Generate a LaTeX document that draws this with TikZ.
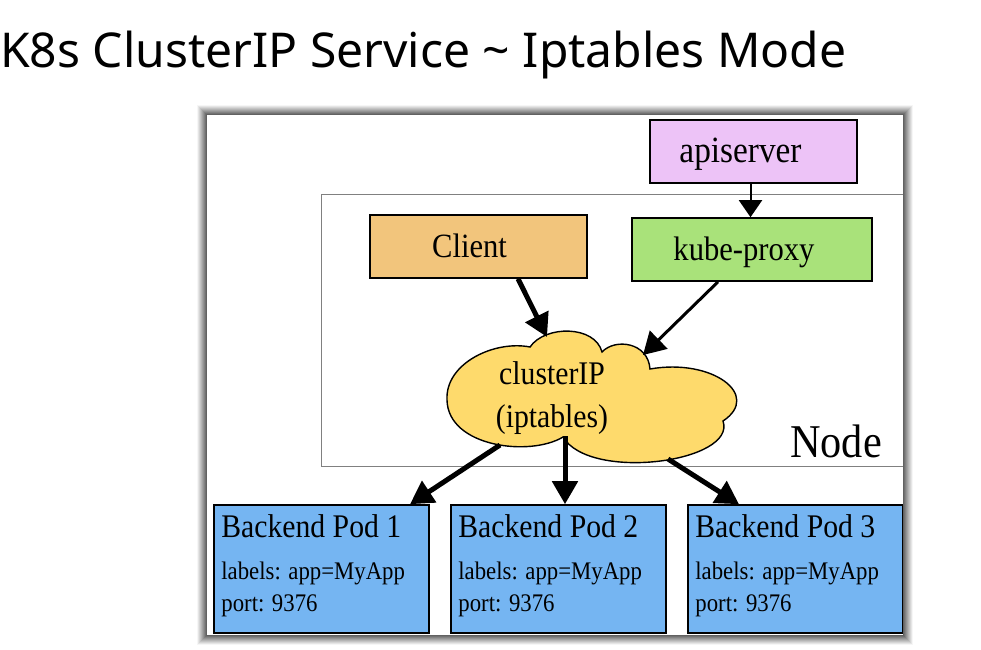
\documentclass[tikz,border=0pt]{standalone}
\usepackage{fontspec}
\setmainfont{Liberation Serif}[FakeStretch=0.9]
\newfontfamily\titlefont{Noto Sans}
\usetikzlibrary{arrows.meta,calc}
\definecolor{apicol}{RGB}{237,195,247}
\definecolor{clientcol}{RGB}{242,197,124}
\definecolor{kubecol}{RGB}{169,226,122}
\definecolor{cloudcol}{RGB}{254,218,108}
\definecolor{podcol}{RGB}{117,181,242}
\definecolor{noderect}{RGB}{128,128,128}
\tikzset{
  box/.style={draw=black, line width=1.6pt, rectangle, minimum height=63pt,
    inner sep=0pt, text height=22.5pt, text depth=0pt,
    font=\fontsize{34}{40}\selectfont},
  podbox/.style={draw=black, line width=1.6pt, rectangle, fill=podcol,
    minimum width=215pt, minimum height=128pt, inner sep=0pt},
  podtitle/.style={anchor=base west, inner sep=0pt, font=\fontsize{33}{38}\selectfont},
  podline/.style={anchor=base west, inner sep=0pt, font=\fontsize{25.3}{30}\selectfont},
  bigarrow/.style={line width=5pt, -{Triangle[length=23pt,width=25pt]}},
  midarrow/.style={line width=3pt, -{Triangle[length=22pt,width=25pt]}},
  thinarrow/.style={line width=2pt, -{Triangle[length=17pt,width=23pt]}},
}
\begin{document}
\begin{tikzpicture}[x=1pt,y=-1pt]
\useasboundingbox (0,0) rectangle (981,649);
\fill[white] (0,0) rectangle (981,649);

% title
\node[anchor=base west, inner sep=0pt, font=\titlefont\fontsize{48}{56}\selectfont] (title) at (0,67) {K8s ClusterIP Service \char`\~{} Iptables Mode};

% node rectangle
\draw[noderect, line width=1pt] (321,194) rectangle (908,466);
\node[anchor=base east, inner sep=0pt, font=\fontsize{47}{52}\selectfont] (nodelbl) at (882,457) {Node};

% boxes
\node[box, fill=apicol, minimum width=207pt, font=\fontsize{37}{42}\selectfont] (api) at (753.5,151.5) {\hspace*{-26pt}apiserver};
\node[box, fill=clientcol, minimum width=217pt] (client) at (478.5,246.5) {\hspace*{-18pt}Client};
\node[box, fill=kubecol, minimum width=240pt] (kube) at (752,249.5) {\hspace*{-16pt}kube-proxy};

% cloud
\filldraw[fill=cloudcol, draw=black, line width=1.4pt]
  (530,347) .. controls (545,325) and (595,325) .. (602,352)
  .. controls (615,338) and (648,342) .. (650,369)
  .. controls (712,358) and (762,395) .. (723,421)
  .. controls (737,462) and (590,482) .. (563,437)
  .. controls (530,457) and (448,447) .. (447,400)
  .. controls (445,363) and (495,340) .. (530,347) -- cycle;
\node[align=center, inner sep=0pt, font=\fontsize{33}{43}\selectfont] (cip) at (552,398) {clusterIP\\(iptables)};
\coordinate (cin1) at (547,337);
\coordinate (cin2) at (643,355);
\coordinate (cout1) at (500,445);
\coordinate (cout2) at (565,436);
\coordinate (cout3) at (668,459);

% pods
\foreach \i/\x in {1/321.5, 2/558.5, 3/795.5}{
  \node[podbox] (pod\i) at (\x,569) {};
  \node[podtitle] (pt\i) at ([xshift=8pt,yshift=-33pt]pod\i.north west) {Backend Pod \i};
  \node[podline] (pl\i) at ([xshift=8pt,yshift=-75pt]pod\i.north west) {labels: app=MyApp};
  \node[podline] (pp\i) at ([xshift=8pt,yshift=-107pt]pod\i.north west) {port: 9376};
}

% arrows
\draw[thinarrow] ([xshift=-3pt]api.south) -- ([xshift=-1.5pt]kube.north);
\draw[bigarrow] ([xshift=39.5pt]client.south) -- (cin1);
\draw[midarrow] ([xshift=-34pt]kube.south) -- (cin2);
\draw[bigarrow] (cout1) -- ([xshift=88.5pt]pod1.north);
\draw[bigarrow] (cout2) -- ([xshift=6.5pt]pod2.north);
\draw[bigarrow] (cout3) -- ([xshift=-56.5pt]pod3.north);

% outer frame with soft shadow
\foreach \k in {0,...,9}{
  \pgfmathsetmacro{\shade}{62-6.5*\k}
  \draw[black!\shade, line width=1.1pt] (206.5-\k,114.5-\k) rectangle (903.5+\k,635.5+\k);
}
\end{tikzpicture}
\end{document}
